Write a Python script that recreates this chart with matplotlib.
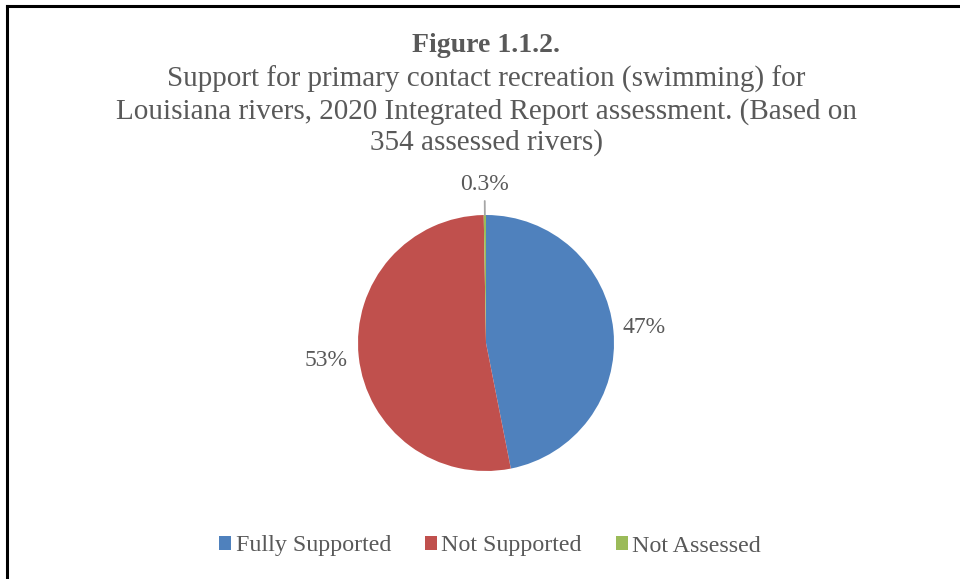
import matplotlib
matplotlib.use("Agg")
import matplotlib.pyplot as plt
import matplotlib.patches as mpatches
import numpy as np

categories = ["Fully Supported", "Not Supported", "Not Assessed"]
counts = [166, 187, 1]
pct_labels = ["47%", "53%", "0.3%"]
colors = ["#4F81BD", "#C0504D", "#9BBB59"]

title_bold = "Figure 1.1.2."
title_text = ("Support for primary contact recreation (swimming) for\n"
              "Louisiana rivers, 2020 Integrated Report assessment. (Based on\n"
              "354 assessed rivers)")

W, H = 960, 579
dpi = 100
plt.rcParams["font.family"] = ["Liberation Serif", "DejaVu Serif"]
fig = plt.figure(figsize=(W / dpi, H / dpi), dpi=dpi)
fig.patch.set_facecolor("white")

txt_col = "#595959"

# border (left and top only, as cropped in reference)
fig.add_artist(plt.Line2D([6.5 / W, 6.5 / W], [0, 1 - 5.5 / H], color="black", lw=2.2))
fig.add_artist(plt.Line2D([6.5 / W, 1], [1 - 5.5 / H, 1 - 5.5 / H], color="black", lw=2.2))

# titles
fig.text(486 / W, 1 - 46 / H, title_bold, ha="center", va="center",
         fontsize=20, fontweight="bold", color=txt_col)
fig.text(486 / W, 1 - 111 / H, title_text, ha="center", va="center",
         fontsize=21, color=txt_col, linespacing=1.22)

# pie axes
cx, cy, r = 486, 343, 128
ax = fig.add_axes([(cx - r) / W, (H - cy - r) / H, 2 * r / W, 2 * r / H])
wedges, _ = ax.pie(counts, colors=colors, startangle=90, counterclock=False,
                   wedgeprops=dict(linewidth=0))
ax.set_xlim(-1, 1)
ax.set_ylim(-1, 1)
ax.set_aspect("equal")
ax.axis("off")

dists = [1.24, 1.26, 1.235]
for w, lab, d in zip(wedges, pct_labels, dists):
    ang = np.deg2rad((w.theta1 + w.theta2) / 2)
    x, y = np.cos(ang), np.sin(ang)
    if lab == "0.3%":
        ax.annotate(lab, xy=(x * 1.0, y * 1.0), xytext=(x * d, y * d),
                    ha="center", va="center", fontsize=17, color=txt_col,
                    arrowprops=dict(arrowstyle="-", color="#A6A6A6", lw=1.3,
                                    shrinkA=2, shrinkB=0),
                    annotation_clip=False)
    else:
        ax.text(x * d, y * d, lab, ha="center", va="center", fontsize=17,
                color=txt_col, clip_on=False)

# legend
handles = [mpatches.Patch(facecolor=c, edgecolor="none") for c in colors]
fig.legend(handles, categories, loc="center", bbox_to_anchor=(490 / W, 1 - 546 / H),
           ncol=3, frameon=False, fontsize=17.3, labelcolor=txt_col,
           handlelength=0.5, handleheight=0.5, handletextpad=0.2,
           columnspacing=1.4)

fig.savefig("out.png", dpi=dpi, facecolor="white")
